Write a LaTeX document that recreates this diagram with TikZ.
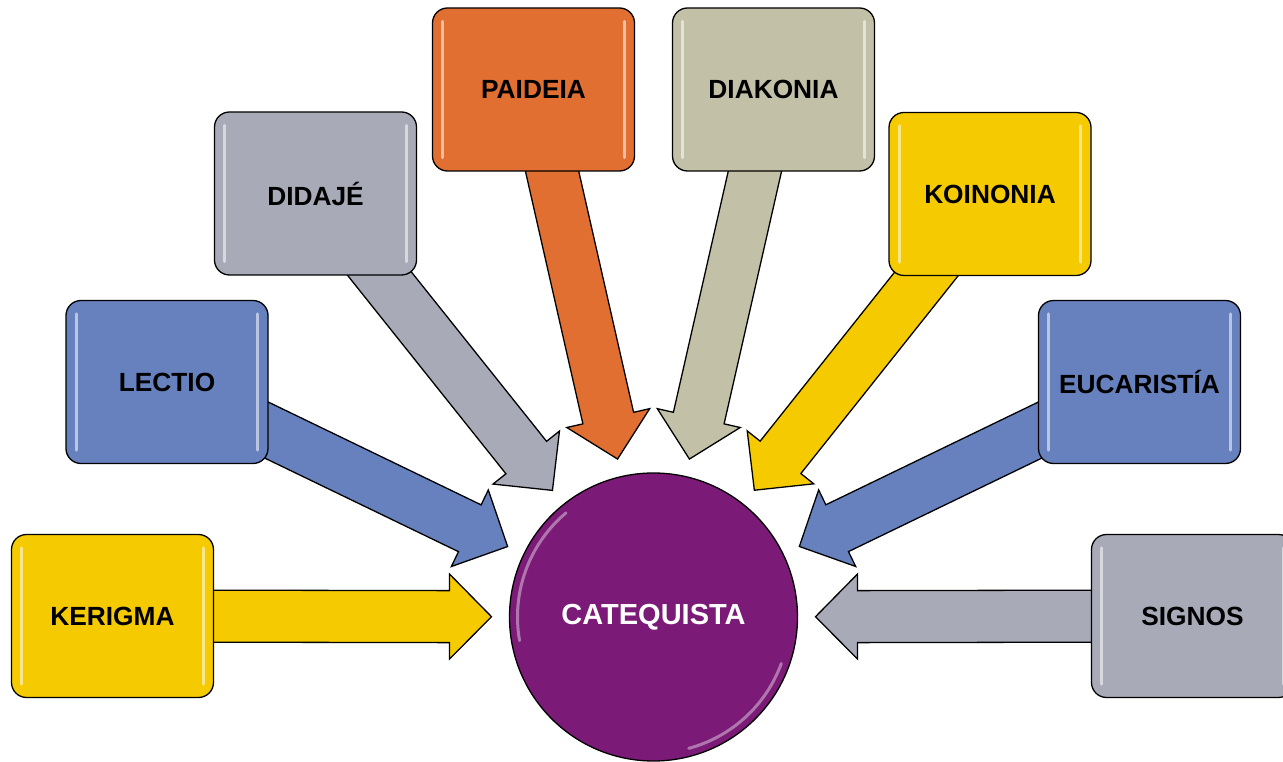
\documentclass[tikz,border=0pt]{standalone}
\usepackage{fontspec}
\setmainfont{Liberation Sans}
\usetikzlibrary{calc}
\definecolor{cyellow}{RGB}{245,203,0}
\definecolor{cblue}{RGB}{102,129,190}
\definecolor{cgray}{RGB}{168,170,184}
\definecolor{corange}{RGB}{226,111,50}
\definecolor{cbeige}{RGB}{194,193,168}
\definecolor{cpurple}{RGB}{123,26,119}
\pgfdeclarelayer{bg}
\pgfsetlayers{bg,main}
\tikzset{
  box/.style={rectangle, rounded corners=15pt, draw=black, line width=1.3pt,
    minimum width=202pt, minimum height=163pt, inner sep=0pt,
    font=\bfseries\fontsize{26.3}{30}\selectfont, text=black},
  hub/.style={circle, draw=black, line width=1.3pt, fill=cpurple,
    minimum size=288pt, inner sep=0pt,
    font=\bfseries\fontsize{29}{33}\selectfont, text=white},
  arrowstyle/.style={draw=black, line width=1.3pt, line join=miter},
  hl/.style={draw=white, opacity=0.55, line width=3pt, line cap=round},
}
\newcommand\flecha[2]{%
  \begin{pgfonlayer}{bg}
  \coordinate (t-#1) at ($(cat.center)!162pt!(#1.center)$);
  \coordinate (h-#1) at ($(cat.center)!204pt!(#1.center)$);
  \filldraw[arrowstyle, fill=#2] (t-#1)
    -- ($(h-#1)!42.5pt!90:(t-#1)$)
    -- ($(h-#1)!26pt!90:(t-#1)$)
    -- ($(#1.center)!26pt!90:(t-#1)$)
    -- ($(#1.center)!26pt!-90:(t-#1)$)
    -- ($(h-#1)!26pt!-90:(t-#1)$)
    -- ($(h-#1)!42.5pt!-90:(t-#1)$)
    -- cycle;
  \end{pgfonlayer}}
\newcommand\brillo[1]{%
  \draw[hl] ([xshift=11pt,yshift=-14pt]#1.north west) -- ([xshift=11pt,yshift=14pt]#1.south west);
  \draw[hl] ([xshift=-11pt,yshift=-14pt]#1.north east) -- ([xshift=-11pt,yshift=14pt]#1.south east);}
\begin{document}
\begin{tikzpicture}[x=1pt,y=1pt]
\useasboundingbox (0,0) rectangle (1283,761);
\node[hub] (cat) at (653.5,144) {CATEQUISTA};
\draw[hl, opacity=0.4] ($(cat.center)+(130:136pt)$) arc[start angle=130, end angle=190, radius=136pt];
\draw[hl, opacity=0.4] ($(cat.center)+(-75:136pt)$) arc[start angle=-75, end angle=-20, radius=136pt];

\node[box, fill=cyellow] (kerigma) at (112.5,145) {KERIGMA};
\node[box, fill=cblue] (lectio) at (167,379) {LECTIO};
\node[box, fill=cgray] (didaje) at (315.5,567.5) {DIDAJÉ};
\node[box, fill=corange] (paideia) at (533.5,671.5) {PAIDEIA};
\node[box, fill=cbeige] (diakonia) at (773.5,671.5) {DIAKONIA};
\node[box, fill=cyellow] (koinonia) at (990,567) {KOINONIA};
\node[box, fill=cblue] (eucaristia) at (1139.5,379) {EUCARISTÍA};
\node[box, fill=cgray] (signos) at (1192.5,145) {SIGNOS};

\brillo{kerigma}\brillo{lectio}\brillo{didaje}\brillo{paideia}
\brillo{diakonia}\brillo{koinonia}\brillo{eucaristia}\brillo{signos}

\flecha{kerigma}{cyellow}
\flecha{lectio}{cblue}
\flecha{didaje}{cgray}
\flecha{paideia}{corange}
\flecha{diakonia}{cbeige}
\flecha{koinonia}{cyellow}
\flecha{eucaristia}{cblue}
\flecha{signos}{cgray}
\end{tikzpicture}
\end{document}
